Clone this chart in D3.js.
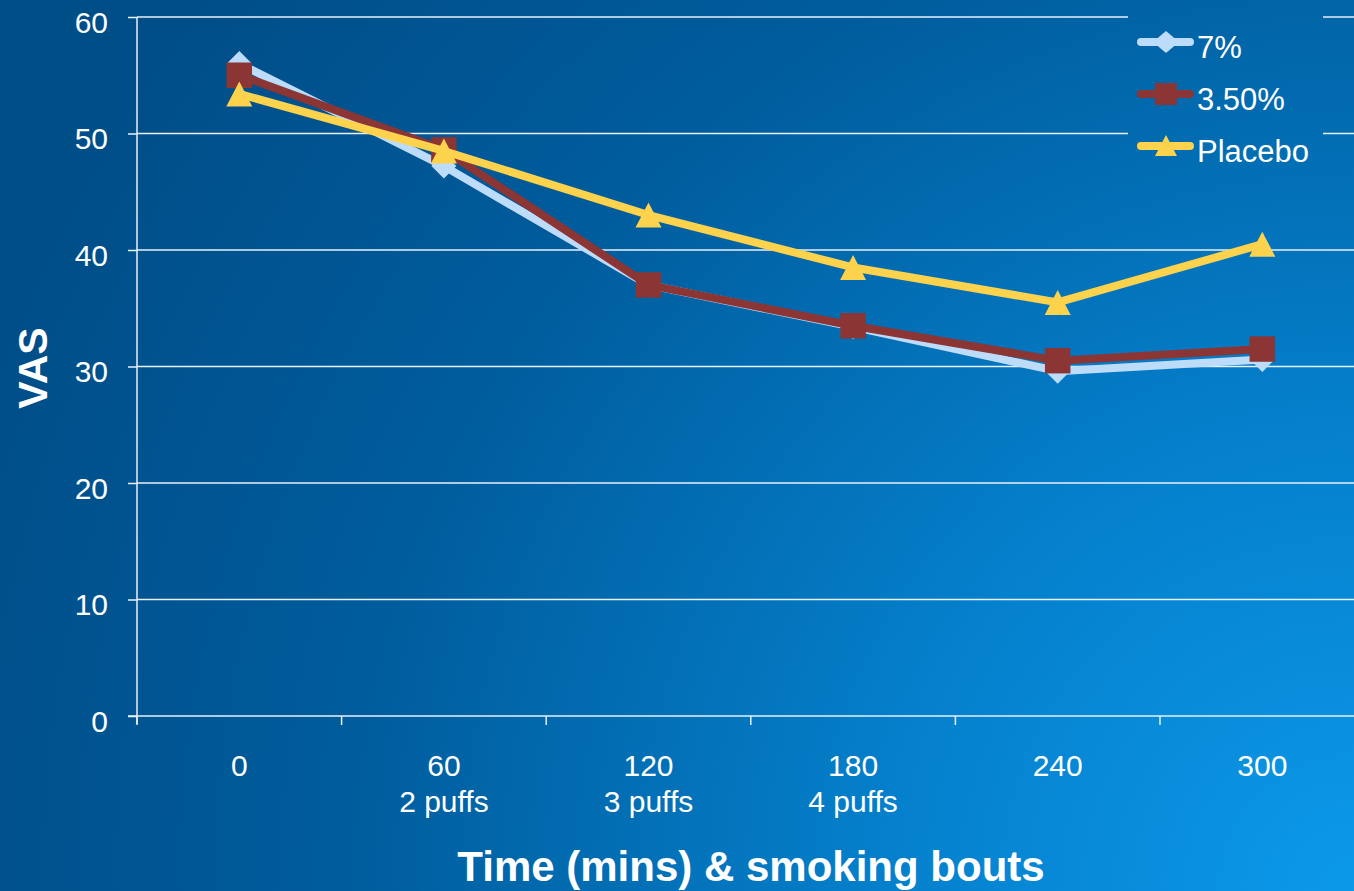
<!DOCTYPE html>
<html>
<head>
<meta charset="utf-8">
<script src="https://cdn.jsdelivr.net/npm/d3@7"></script>
<style>
  html, body { margin: 0; padding: 0; overflow: hidden; }
  svg { display: block; font-family: "Liberation Sans", Arial, sans-serif; }
</style>
</head>
<body>
<svg id="chart" width="1354" height="891"></svg>
<script>
// Time points (minutes) and smoking bouts
const categories = ["0", "60", "120", "180", "240", "300"];
const boutLabels = ["", "2 puffs", "3 puffs", "4 puffs", "", ""];
const yTicks = [0, 10, 20, 30, 40, 50, 60];

// VAS scores per group
const seriesNames = ["7%", "3.50%", "Placebo"];
const values7 = [56, 47.2, 37, 33.4, 29.6, 30.6];
const values35 = [55, 48.6, 37, 33.5, 30.5, 31.5];
const valuesPlacebo = [53.4, 48.5, 43, 38.5, 35.5, 40.5];

const W = 1354, H = 891;
const svg = d3.select("#chart");
const defs = svg.append("defs");

// background gradient, brightest at the bottom right
const grad = defs.append("radialGradient")
  .attr("id", "bg").attr("gradientUnits", "userSpaceOnUse")
  .attr("cx", W).attr("cy", H).attr("r", 1450);
grad.append("stop").attr("offset", 0).attr("stop-color", "#0c99ea");
grad.append("stop").attr("offset", 0.32).attr("stop-color", "#0580cc");
grad.append("stop").attr("offset", 0.7).attr("stop-color", "#005c9c");
grad.append("stop").attr("offset", 1).attr("stop-color", "#004e88");

svg.append("rect").attr("width", W).attr("height", H).attr("fill", "url(#bg)");

const x = d3.scaleBand().domain(categories).range([137, 137 + 6 * 204.6]);
const y = d3.scaleLinear().domain([0, 60]).range([716, 17]);
const axisColor = "#e8f0f8";

// horizontal gridlines
svg.append("g").selectAll("line").data(yTicks.filter(d => d > 0)).join("line")
  .attr("x1", 137).attr("x2", W)
  .attr("y1", d => y(d)).attr("y2", d => y(d))
  .attr("stroke", axisColor).attr("stroke-width", 1.5);

// y axis
const yAxis = svg.append("g").attr("transform", "translate(137,0)")
  .call(d3.axisLeft(y).tickValues(yTicks).tickSize(9).tickPadding(20));
yAxis.select(".domain").attr("stroke", axisColor).attr("stroke-width", 1.5)
  .attr("d", "M0,17V724");
yAxis.selectAll(".tick line").attr("stroke", axisColor).attr("stroke-width", 1.5);
yAxis.selectAll(".tick text").attr("fill", "#ffffff").attr("font-size", 30)
  .attr("dy", "0.5em")
  .attr("font-family", "Liberation Sans, Arial, sans-serif");

// x axis line with ticks at category boundaries
const xg = svg.append("g");
xg.append("line").attr("x1", 128).attr("x2", W).attr("y1", 716).attr("y2", 716)
  .attr("stroke", axisColor).attr("stroke-width", 1.5);
xg.selectAll("line.tk").data(d3.range(categories.length + 1)).join("line")
  .attr("class", "tk")
  .attr("x1", i => 137 + i * x.step()).attr("x2", i => 137 + i * x.step())
  .attr("y1", 716).attr("y2", 725)
  .attr("stroke", axisColor).attr("stroke-width", 1.5);

const cx = d => x(d) + x.bandwidth() / 2;
xg.selectAll("text.cat").data(categories).join("text").attr("class", "cat")
  .attr("x", cx).attr("y", 776).attr("text-anchor", "middle")
  .attr("fill", "#ffffff").attr("font-size", 30).text(d => d);
xg.selectAll("text.bout").data(categories).join("text").attr("class", "bout")
  .attr("x", cx).attr("y", 812).attr("text-anchor", "middle")
  .attr("fill", "#ffffff").attr("font-size", 30).text((d, i) => boutLabels[i]);

// axis titles
svg.append("text").attr("x", 751).attr("y", 881).attr("text-anchor", "middle")
  .attr("fill", "#ffffff").attr("font-size", 42).attr("font-weight", "bold")
  .text("Time (mins) & smoking bouts");
svg.append("text").attr("transform", "translate(47,368) rotate(-90)")
  .attr("text-anchor", "middle")
  .attr("fill", "#ffffff").attr("font-size", 41).attr("font-weight", "bold")
  .text("VAS");

// series
const colors = ["#bcdcfa", "#8b3535", "#fdd34e"];
const allSeries = [values7, values35, valuesPlacebo];

const line = d3.line().x((d, i) => cx(categories[i])).y(d => y(d));

const markerPaths = [
  "M0,-12.5L12.5,0L0,12.5L-12.5,0Z",
  d3.symbol().type(d3.symbolSquare).size(650)(),
  "M0,-12.5L13,12.5L-13,12.5Z"
];

allSeries.forEach((vals, k) => {
  const g = svg.append("g");
  g.append("path").datum(vals).attr("d", line)
    .attr("fill", "none").attr("stroke", colors[k]).attr("stroke-width", 8)
    .attr("stroke-linejoin", "round").attr("stroke-linecap", "round");
  g.selectAll("path.m").data(vals).join("path").attr("class", "m")
    .attr("transform", (d, i) => `translate(${cx(categories[i])},${y(d)})`)
    .attr("d", markerPaths[k])
    .attr("fill", colors[k]);
});

// legend with a background that masks gridlines
const lg = svg.append("g");
lg.append("rect").attr("x", 1128).attr("y", 12).attr("width", 195).attr("height", 162)
  .attr("fill", "url(#bg)");
const legendMarks = [
  "M0,-11L13,0L0,11L-13,0Z",
  "M-11,-11H11V11H-11Z",
  "M0,-11L11,10H-11Z"
];
seriesNames.forEach((name, k) => {
  const ly = 42 + k * 52;
  lg.append("line").attr("x1", 1141).attr("x2", 1190).attr("y1", ly).attr("y2", ly)
    .attr("stroke", colors[k]).attr("stroke-width", 8).attr("stroke-linecap", "round");
  lg.append("path").attr("transform", `translate(1166,${ly})`)
    .attr("d", legendMarks[k])
    .attr("fill", colors[k]);
  lg.append("text").attr("x", 1197).attr("y", ly + 16).attr("fill", "#ffffff")
    .attr("font-size", 31).text(name);
});
</script>
</body>
</html>
